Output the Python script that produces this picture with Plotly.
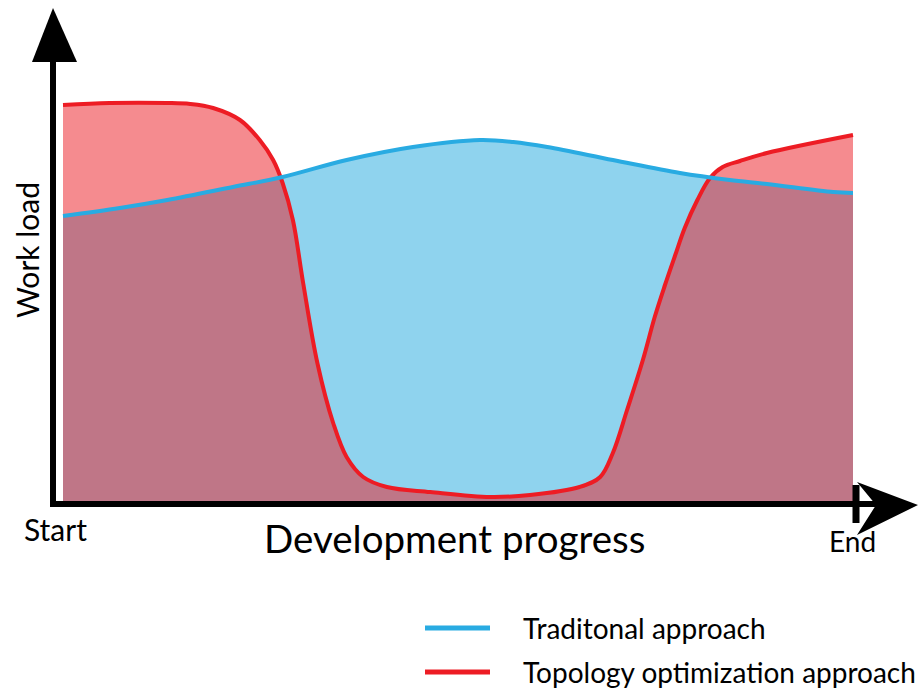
import plotly.graph_objects as go

# %% data (progress in %, work load in arbitrary units)
topo_x = [0, 5.9, 13.2, 16.1, 19.0, 22.4, 24.9, 26.6, 27.8, 29.1, 30.4, 32.2, 34.2, 35.9, 38.0,
          41.0, 46.5, 54.1, 59.1, 65.4, 68.0, 69.6, 71.4, 73.4, 74.9, 76.2, 77.5, 78.7, 80.3,
          81.9, 83.5, 85.7, 89.1, 100]
topo_y = [99.0, 99.5, 99.5, 99.25, 98.25, 95.25, 90.25, 85.25, 79.5, 70.25, 54.5, 34.5, 19.5, 11.0, 6.0,
          3.5, 2.25, 1.0, 1.5, 3.5, 6.0, 12.0, 22.75, 35.25, 46.0, 54.0, 61.5, 68.25, 75.25,
          80.75, 83.5, 85.0, 87.0, 91.5]

trad_x = [0, 7.2, 13.2, 21.5, 27.8, 35.9, 44.3, 52.8, 57.0, 61.3, 69.6, 78.1, 84.4, 89.1, 97.5, 100]
trad_y = [71.25, 73.25, 75.25, 78.5, 81.0, 85.25, 88.5, 90.25, 89.75, 88.5, 85.25, 82.0, 80.25,
          79.25, 77.25, 77.0]

series_names = ['Traditonal approach', 'Topology optimization approach']
axis_labels = {'x': 'Development progress', 'y': 'Work load', 'start': 'Start', 'end': 'End'}

# %% style
W, H = 919, 694
BLUE_LINE = '#29ABE2'
BLUE_FILL = '#8FD3EE'
RED_LINE = '#ED1C24'
RED_FILL = 'rgba(236,32,40,0.52)'
FONT = 'Lato, Roboto, sans-serif'

# data -> pixel mapping: x 0..100 -> px 63..853, y 0..100 -> py 501..101
X0, XS = 63, 7.9
Y0, YS = 501, 4.0


def px(x):
    return x / W


def py(y):
    return 1 - y / H


fig = go.Figure()

# fills (blue opaque below, red translucent on top gives the mauve overlap)
fig.add_trace(go.Scatter(x=trad_x, y=trad_y, fill='tozeroy', fillcolor=BLUE_FILL,
                         mode='lines', line=dict(width=0, shape='spline', smoothing=1),
                         showlegend=False, hoverinfo='skip'))
fig.add_trace(go.Scatter(x=topo_x, y=topo_y, fill='tozeroy', fillcolor=RED_FILL,
                         mode='lines', line=dict(width=0, shape='spline', smoothing=1),
                         showlegend=False, hoverinfo='skip'))
# lines
fig.add_trace(go.Scatter(x=topo_x, y=topo_y, mode='lines', name=series_names[1],
                         line=dict(color=RED_LINE, width=4, shape='spline', smoothing=1),
                         showlegend=False))
fig.add_trace(go.Scatter(x=trad_x, y=trad_y, mode='lines', name=series_names[0],
                         line=dict(color=BLUE_LINE, width=4, shape='spline', smoothing=1),
                         showlegend=False))

shapes = []
# y axis shaft + arrow head
shapes.append(dict(type='line', x0=px(53), x1=px(53), y0=py(507), y1=py(55),
                   line=dict(color='black', width=6)))
shapes.append(dict(type='path', path=f'M {px(32)},{py(62)} L {px(53)},{py(8)} L {px(77)},{py(62)} Z',
                   fillcolor='black', line=dict(width=0)))
# x axis shaft + arrow head
shapes.append(dict(type='line', x0=px(50), x1=px(900), y0=py(504), y1=py(504),
                   line=dict(color='black', width=6)))
shapes.append(dict(type='path',
                   path=f'M {px(857)},{py(482)} L {px(918)},{py(505)} L {px(857)},{py(535)} '
                        f'L {px(876)},{py(505)} Z',
                   fillcolor='black', line=dict(width=0)))
# end tick
shapes.append(dict(type='line', x0=px(856), x1=px(856), y0=py(485), y1=py(523),
                   line=dict(color='black', width=7)))
# legend lines
shapes.append(dict(type='line', x0=px(425), x1=px(490), y0=py(628), y1=py(628),
                   line=dict(color=BLUE_LINE, width=5)))
shapes.append(dict(type='line', x0=px(425), x1=px(490), y0=py(672), y1=py(672),
                   line=dict(color=RED_LINE, width=5)))
for s in shapes:
    s.update(xref='paper', yref='paper', layer='above')

annotations = [
    dict(text=axis_labels['y'], x=px(27), y=py(250), textangle=-90, font=dict(size=30)),
    dict(text=axis_labels['x'], x=px(454), y=py(538), font=dict(size=38.5)),
    dict(text=axis_labels['start'], x=px(55), y=py(529), font=dict(size=30)),
    dict(text=axis_labels['end'], x=px(852), y=py(541), font=dict(size=28)),
    dict(text=series_names[0], x=px(521), y=py(628), xanchor='left', font=dict(size=28)),
    dict(text=series_names[1], x=px(521), y=py(672), xanchor='left', font=dict(size=28)),
]
for a in annotations:
    a.update(xref='paper', yref='paper', showarrow=False, yanchor='middle')
    a.setdefault('xanchor', 'center')
    a['font'].update(family=FONT, color='black')

fig.update_layout(
    width=W, height=H,
    margin=dict(l=0, r=0, t=0, b=0),
    paper_bgcolor='white', plot_bgcolor='white',
    shapes=shapes, annotations=annotations,
    xaxis=dict(range=[-X0 / XS, (W - X0) / XS], visible=False, fixedrange=True),
    yaxis=dict(range=[(Y0 - H) / YS, Y0 / YS], visible=False, fixedrange=True),
)

fig.write_html('out.html', config={'displayModeBar': False},
               post_script="document.body.style.margin='0';")
